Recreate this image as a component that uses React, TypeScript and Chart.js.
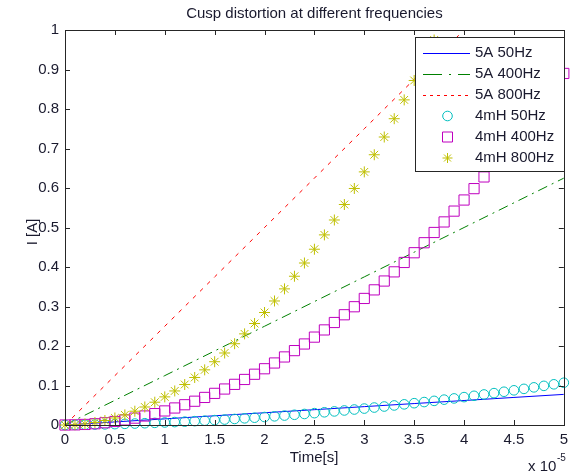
import React, { useEffect, useRef } from "react";
import { Chart, registerables } from "chart.js";

Chart.register(...registerables);

const TITLE = "Cusp distortion at different frequencies";
const X_LABEL = "Time[s]";
const Y_LABEL = "I [A]";
const X_EXP_BASE = "x 10";
const X_EXP_POWER = "-5";

const X_TICKS = [0, 0.5, 1, 1.5, 2, 2.5, 3, 3.5, 4, 4.5, 5];
const X_TICK_LABELS = ["0", "0.5", "1", "1.5", "2", "2.5", "3", "3.5", "4", "4.5", "5"];
const Y_TICKS = [0, 0.1, 0.2, 0.3, 0.4, 0.5, 0.6, 0.7, 0.8, 0.9, 1];
const Y_TICK_LABELS = ["0", "0.1", "0.2", "0.3", "0.4", "0.5", "0.6", "0.7", "0.8", "0.9", "1"];

const SERIES_NAMES = ["5A 50Hz", "5A 400Hz", "5A 800Hz", "4mH 50Hz", "4mH 400Hz", "4mH 800Hz"];

// time in units of 1e-5 s
const LINE_TIME = [0, 0.5, 1, 1.5, 2, 2.5, 3, 3.5, 4, 4.5, 5];
const A5_50HZ = [0, 0.0078, 0.0155, 0.0233, 0.031, 0.0388, 0.0465, 0.0543, 0.062, 0.0698, 0.0775];
const A5_400HZ = [0, 0.0625, 0.125, 0.1875, 0.25, 0.3125, 0.375, 0.4375, 0.5, 0.5625, 0.625];
const A5_800HZ = [0, 0.125, 0.25, 0.375, 0.5, 0.625, 0.75, 0.875, 1.0];

const MARK_TIME = [
  0, 0.1, 0.2, 0.3, 0.4, 0.5, 0.6, 0.7, 0.8, 0.9,
  1.0, 1.1, 1.2, 1.3, 1.4, 1.5, 1.6, 1.7, 1.8, 1.9,
  2.0, 2.1, 2.2, 2.3, 2.4, 2.5, 2.6, 2.7, 2.8, 2.9,
  3.0, 3.1, 3.2, 3.3, 3.4, 3.5, 3.6, 3.7, 3.8, 3.9,
  4.0, 4.1, 4.2, 4.3, 4.4, 4.5, 4.6, 4.7, 4.8, 4.9, 5.0,
];
const MH4_50HZ = [
  0, 0.0003, 0.0007, 0.0011, 0.0016, 0.0022, 0.0029, 0.0037, 0.0045, 0.0054,
  0.0064, 0.0074, 0.0085, 0.0097, 0.011, 0.0124, 0.0138, 0.0153, 0.0169, 0.0185,
  0.0202, 0.022, 0.0239, 0.0259, 0.0279, 0.03, 0.0322, 0.0344, 0.0368, 0.0392,
  0.0416, 0.0442, 0.0468, 0.0495, 0.0523, 0.0552, 0.0581, 0.0611, 0.0642, 0.0673,
  0.0706, 0.0739, 0.0773, 0.0807, 0.0842, 0.0878, 0.0915, 0.0953, 0.0991, 0.103, 0.107,
];
const MH4_400HZ = [
  0, 0.0004, 0.0014, 0.0032, 0.0057, 0.0089, 0.0128, 0.0174, 0.0228, 0.0288,
  0.0356, 0.0431, 0.0513, 0.0602, 0.0698, 0.0801, 0.0911, 0.1029, 0.1153, 0.1285,
  0.1424, 0.157, 0.1723, 0.1883, 0.2051, 0.2225, 0.2407, 0.2595, 0.2791, 0.2994,
  0.3204, 0.3421, 0.3645, 0.3877, 0.4115, 0.4361, 0.4614, 0.4874, 0.5141, 0.5415,
  0.5696, 0.5984, 0.628, 0.6582, 0.6892, 0.7209, 0.7533, 0.7864, 0.8202, 0.8548, 0.89,
];
const MH4_800HZ = [
  0, 0.0007, 0.0028, 0.0064, 0.0114, 0.0178, 0.0256, 0.0349, 0.0456, 0.0577,
  0.0712, 0.0862, 0.1025, 0.1203, 0.1396, 0.1602, 0.1823, 0.2058, 0.2307, 0.257,
  0.2848, 0.314, 0.3446, 0.3766, 0.4101, 0.445, 0.4813, 0.519, 0.5582, 0.5988,
  0.6408, 0.6842, 0.7291, 0.7754, 0.8231, 0.8722, 0.9228, 0.9747,
];

const BLUE = "#0000ff";
const GREEN = "#008000";
const RED = "#ff0000";
const CYAN = "#00bfbf";
const MAGENTA = "#bf00bf";
const YELLOW = "#bfbf00";

const FONT_FAMILY = '"Liberation Sans", Arial, Helvetica, sans-serif';
const TEXT_COLOR = "#1a1a2e";

const toPts = (xs: number[], ys: number[]) => ys.map((y, i) => ({ x: xs[i], y }));

function drawMarker(ctx: CanvasRenderingContext2D, kind: string, x: number, y: number, color: string) {
  ctx.save();
  ctx.strokeStyle = color;
  ctx.lineWidth = 1;
  ctx.setLineDash([]);
  ctx.beginPath();
  if (kind === "circle") {
    ctx.arc(x, y, 4.8, 0, Math.PI * 2);
  } else if (kind === "rect") {
    ctx.rect(x - 5, y - 5, 10, 10);
  } else {
    const r = 5;
    ctx.moveTo(x - r, y); ctx.lineTo(x + r, y);
    ctx.moveTo(x, y - r); ctx.lineTo(x, y + r);
    const d = r * 0.7;
    ctx.moveTo(x - d, y - d); ctx.lineTo(x + d, y + d);
    ctx.moveTo(x - d, y + d); ctx.lineTo(x + d, y - d);
  }
  ctx.stroke();
  ctx.restore();
}

// draw a horizontal legend sample as filled pixel runs following a dash pattern
function drawLegendLine(ctx: CanvasRenderingContext2D, x0: number, x1: number, y: number, color: string, pattern: number[]) {
  ctx.save();
  ctx.fillStyle = color;
  if (pattern.length === 0) {
    ctx.fillRect(x0, y, x1 - x0, 1);
  } else {
    let x = x0;
    let k = 0;
    while (x < x1) {
      const len = pattern[k % pattern.length];
      if (k % 2 === 0) ctx.fillRect(x, y, Math.min(len, x1 - x), 1);
      x += len;
      k++;
    }
  }
  ctx.restore();
}

const decorPlugin = {
  id: "decor",
  afterDraw(chart: any) {
    const ctx: CanvasRenderingContext2D = chart.ctx;
    const { left, right, top, bottom } = chart.chartArea;
    const xs = chart.scales.x;
    const ys = chart.scales.y;
    ctx.save();
    ctx.globalAlpha = 1;
    ctx.strokeStyle = "#262626";
    ctx.lineWidth = 1;
    ctx.setLineDash([]);
    ctx.strokeRect(Math.round(left) + 0.5, Math.round(top) + 0.5, Math.round(right - left), Math.round(bottom - top));
    ctx.beginPath();
    X_TICKS.forEach((v) => {
      const px = Math.round(xs.getPixelForValue(v)) + 0.5;
      ctx.moveTo(px, bottom); ctx.lineTo(px, bottom - 5);
      ctx.moveTo(px, top); ctx.lineTo(px, top + 5);
    });
    Y_TICKS.forEach((v) => {
      const py = Math.round(ys.getPixelForValue(v)) + 0.5;
      ctx.moveTo(left, py); ctx.lineTo(left + 5, py);
      ctx.moveTo(right, py); ctx.lineTo(right - 5, py);
    });
    ctx.stroke();

    ctx.fillStyle = TEXT_COLOR;
    ctx.font = `15px ${FONT_FAMILY}`;
    ctx.textAlign = "center";
    ctx.textBaseline = "middle";
    ctx.fillText(TITLE, (left + right) / 2, 14);
    ctx.fillText(X_LABEL, 314, 458);
    ctx.save();
    ctx.translate(33, 232);
    ctx.rotate(-Math.PI / 2);
    ctx.fillText(Y_LABEL, 0, 0);
    ctx.restore();
    ctx.textAlign = "left";
    ctx.fillText(X_EXP_BASE, 528, 467);
    ctx.font = `10px ${FONT_FAMILY}`;
    ctx.fillText(X_EXP_POWER, 557, 458);

    // legend
    const lx = 415.5, ly = 37.5, lw = 149, lh = 134;
    ctx.fillStyle = "#ffffff";
    ctx.fillRect(lx, ly, lw, lh);
    ctx.strokeStyle = "#262626";
    ctx.strokeRect(lx, ly, lw, lh);
    const colors = [BLUE, GREEN, RED, CYAN, MAGENTA, YELLOW];
    const dashes = [[], [19, 7, 2, 7], [3, 4]];
    const markers = ["circle", "rect", "star"];
    SERIES_NAMES.forEach((name, i) => {
      const cy = 53 + i * 21;
      if (i < 3) {
        drawLegendLine(ctx, 423, 470, cy, colors[i], dashes[i]);
      } else {
        drawMarker(ctx, markers[i - 3], 447.5, cy, colors[i]);
      }
      ctx.fillStyle = TEXT_COLOR;
      ctx.font = `15px ${FONT_FAMILY}`;
      ctx.textAlign = "left";
      ctx.textBaseline = "middle";
      ctx.fillText(name, 475, cy);
    });
    ctx.restore();
  },
};

export default function App() {
  const ref = useRef<HTMLCanvasElement | null>(null);
  useEffect(() => {
    if (!ref.current) return;
    const lineDs = (label: string, ys: number[], color: string, dash: number[], order: number) => ({
      label,
      data: toPts(LINE_TIME, ys),
      showLine: true,
      borderColor: color,
      backgroundColor: color,
      borderWidth: 1,
      borderDash: dash,
      pointRadius: 0,
      fill: false,
      tension: 0,
      order,
      clip: 0,
    });
    const markDs = (label: string, ys: number[], color: string, style: string, radius: number, order: number) => ({
      label,
      data: toPts(MARK_TIME, ys),
      showLine: false,
      borderColor: color,
      backgroundColor: "rgba(0,0,0,0)",
      pointStyle: style,
      pointRadius: radius,
      pointBorderWidth: 1,
      pointBorderColor: color,
      pointBackgroundColor: "rgba(0,0,0,0)",
      order,
      clip: false,
    });
    const chart = new Chart(ref.current, {
      type: "scatter",
      data: {
        datasets: [
          lineDs(SERIES_NAMES[0], A5_50HZ, BLUE, [], 5),
          lineDs(SERIES_NAMES[1], A5_400HZ, GREEN, [10, 5, 2, 5], 4),
          lineDs(SERIES_NAMES[2], A5_800HZ, RED, [4, 6], 3),
          markDs(SERIES_NAMES[3], MH4_50HZ, CYAN, "circle", 4.8, 2),
          markDs(SERIES_NAMES[4], MH4_400HZ, MAGENTA, "rect", 7.2, 1),
          markDs(SERIES_NAMES[5], MH4_800HZ, YELLOW, "star", 5.5, 0),
        ] as any,
      },
      options: {
        responsive: false,
        animation: false,
        devicePixelRatio: 1,
        layout: { padding: { top: 30, right: 7, left: 0, bottom: 0 } },
        plugins: {
          legend: { display: false },
          tooltip: { enabled: false },
          title: { display: false },
        },
        scales: {
          x: {
            type: "linear",
            min: 0,
            max: 5,
            afterBuildTicks: (s: any) => {
              s.ticks = X_TICKS.map((v) => ({ value: v }));
            },
            ticks: {
              autoSkip: false,
              maxRotation: 0,
              padding: 6,
              color: TEXT_COLOR,
              font: { size: 15, family: FONT_FAMILY },
              callback: (_v: any, i: number) => X_TICK_LABELS[i],
            },
            grid: { display: false, drawTicks: false },
            border: { display: false },
            afterFit: (s: any) => {
              s.height = 49;
            },
          },
          y: {
            type: "linear",
            min: 0,
            max: 1,
            afterBuildTicks: (s: any) => {
              s.ticks = Y_TICKS.map((v) => ({ value: v }));
            },
            ticks: {
              autoSkip: false,
              padding: 6,
              color: TEXT_COLOR,
              font: { size: 15, family: FONT_FAMILY },
              callback: (_v: any, i: number) => Y_TICK_LABELS[i],
            },
            grid: { display: false, drawTicks: false },
            border: { display: false },
            afterFit: (s: any) => {
              s.width = 65;
            },
          },
        },
      } as any,
      plugins: [decorPlugin],
    });
    return () => chart.destroy();
  }, []);
  return (
    <div style={{ position: "absolute", left: 0, top: 0, width: 574, height: 474, background: "#fff" }}>
      <canvas ref={ref} width={574} height={474} style={{ display: "block" }} />
    </div>
  );
}
